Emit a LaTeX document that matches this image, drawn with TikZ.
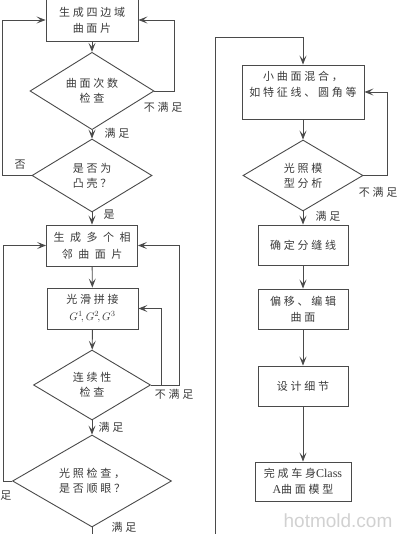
\documentclass[tikz,border=0pt]{standalone}
\usepackage{fontspec}
\setmainfont{Liberation Serif}
\newfontfamily\cjk[LetterSpace=25]{Noto Sans CJK SC}
\newfontfamily\cjkwide[LetterSpace=50]{Noto Sans CJK SC}
\usetikzlibrary{shapes.geometric,arrows.meta,positioning}
\definecolor{lineg}{HTML}{4A4A4A}
\definecolor{textg}{HTML}{3A3A3A}
\tikzset{
  block/.style={
    shape = rectangle,
    draw = lineg,
    line width = 0.9pt,
    align = center,
    inner sep = 0pt,
    text = textg,
    font = \cjk\fontsize{11}{16}\selectfont
  },
  decision/.style={
    shape = diamond,
    draw = lineg,
    line width = 0.9pt,
    align = center,
    inner sep = 0pt,
    text = textg,
    font = \cjk\fontsize{11}{15}\selectfont
  },
  lbl/.style={
    text = textg,
    inner sep = 1pt,
    font = \cjk\fontsize{11}{13}\selectfont
  },
  flow/.style={
    draw = lineg,
    line width = 0.9pt,
    -{Stealth[length=9pt,width=7pt,inset=4pt]}
  },
  wire/.style={
    draw = lineg,
    line width = 0.9pt
  }
}

\begin{document}
\begin{tikzpicture}[x=1pt,y=-1pt]
        \useasboundingbox (0,0) rectangle (400,534);

        % left column
        \node[block, minimum width=92, minimum height=42] (quad) at (92,20) {生成四边域\\曲面片};
        \node[decision, minimum width=124, minimum height=69] (degree) at (92,91) {曲面次数\\检查};
        \node[decision, minimum width=120, minimum height=73] (convex) at (92,175.5) {是否为\\凸壳？};
        \node[block, minimum width=91, minimum height=41, font=\cjkwide\fontsize{11}{17}\selectfont] (multi) at (92,245.5) {生成多个相\\邻曲面片};
        \node[block, minimum width=91, minimum height=41] (smooth) at (92.5,308.5) {光滑拼接\\[1pt]{\rmfamily$G^1\!,G^2\!,G^3$}};
        \node[decision, minimum width=117, minimum height=70] (contin) at (92,385) {连续性\\检查};
        \node[decision, minimum width=159, minimum height=92] (light) at (92,481) {光照检查，\\是否顺眼？};

        % right column
        \node[block, minimum width=122, minimum height=54, text depth=17pt] (blend) at (303,92) {小曲面混合，\\如特征线、圆角等};
        \node[decision, minimum width=120, minimum height=71] (model) at (303,175.5) {光照模\\型分析};
        \node[block, minimum width=90, minimum height=40] (seam) at (303,245) {确定分缝线};
        \node[block, minimum width=90, minimum height=40] (offset) at (303,309) {偏移、编辑\\曲面};
        \node[block, minimum width=90, minimum height=40] (detail) at (303,386) {设计细节};
        \node[block, minimum width=96, minimum height=39] (final) at (303,481.5) {完成车身{\rmfamily\fontsize{12}{16}\selectfont Class}\\{\rmfamily\fontsize{12}{16}\selectfont A}曲面模型};

        \coordinate (lightout) at (92,545);
        \coordinate (rightin) at (215,545);

        % connectors
        \draw[flow] (quad) -- (degree);
        \draw[flow] (degree.east) -- ++(20,0) |- (quad.east);
        \draw[flow] (degree) -- (convex);
        \draw[flow] (convex.west) -- ++(-29,0) |- (quad.west);
        \draw[flow] (convex) -- (multi);
        \draw[flow] (multi) -- (smooth);
        \draw[flow] (smooth) -- (contin);
        \draw[flow] (contin.east) -- ++(28,0) |- (multi.east);
        \draw[flow] (contin.east) -- ++(10,0) |- (smooth.east);
        \draw[flow] (contin) -- (light);
        \draw[flow] (light.west) -- ++(-9,0) |- (multi.west);
        \draw[wire] (light.south) -- (lightout);

        \draw[flow] (rightin) -- (215,37) -| (blend.north);
        \draw[flow] (blend) -- (model);
        \draw[flow] (model.east) -- ++(24,0) |- (blend.east);
        \draw[flow] (model) -- (seam);
        \draw[flow] (seam) -- (offset);
        \draw[flow] (offset) -- (detail);
        \draw[flow] (detail) -- (final);

        % labels
        \node[lbl] (ndeg) at (163,107) {不满足};
        \node[lbl] (ydeg) at (117,133) {满足};
        \node[lbl] (nconv) at (20,165) {否};
        \node[lbl] (yconv) at (109,215) {是};
        \node[lbl] (ncont) at (174,394) {不满足};
        \node[lbl] (ycont) at (111,427) {满足};
        \node[lbl] (nlight) at (6,496) {足};
        \node[lbl] (ylight) at (124,527) {满足};
        \node[lbl] (nmodel) at (378,192) {不满足};
        \node[lbl] (ymodel) at (328,216) {满足};

        \node[text=black!18, font=\fontspec{Liberation Sans}\fontsize{19}{20}\selectfont] (mark) at (338,521) {hotmold.com};
        \end{tikzpicture}
\end{document}
